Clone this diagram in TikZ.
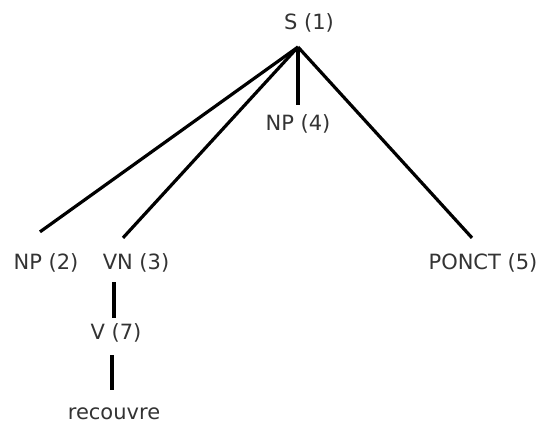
\documentclass[tikz,border=0pt]{standalone}
\usepackage{fontspec}
\setmainfont{DejaVu Sans}
\usepackage{tikz}
\usetikzlibrary{positioning}
\definecolor{treegray}{RGB}{51,51,51}

\begin{document}
\begin{tikzpicture}[x=1pt,y=-1pt,
  lbl/.style={text=treegray, inner sep=0pt, font=\fontsize{21}{25}\selectfont},
  edge/.style={black, line width=3.2pt}]
\useasboundingbox (0,0) rectangle (541,428);
\node[lbl] (s) at (309,23) {S (1)};
\coordinate (hub) at (298,47);
\node[lbl] (np4) at (298,124) {NP (4)};
\node[lbl] (np2) at (46,263) {NP (2)};
\node[lbl] (vn3) at (136,263) {VN (3)};
\node[lbl] (ponct5) at (483,263) {PONCT (5)};
\node[lbl] (v7) at (116,333) {V (7)};
\node[lbl] (recouvre) at (114,414) {recouvre};

\draw[edge] (hub) -- ([xshift=-6pt,yshift=21.6pt]np2.north);
\draw[edge] (hub) -- ([xshift=-13pt,yshift=15.6pt]vn3.north);
\draw[edge] (hub) -- ([yshift=9.6pt]np4.north);
\draw[edge] (hub) -- ([xshift=-11pt,yshift=15.6pt]ponct5.north);
\draw[edge] ([xshift=-22pt,yshift=-9.6pt]vn3.south) -- ([xshift=-2pt,yshift=5.6pt]v7.north);
\draw[edge] ([xshift=-4pt,yshift=-12.6pt]v7.south) -- ([xshift=-2pt,yshift=18pt]recouvre.north);
\end{tikzpicture}
\end{document}
